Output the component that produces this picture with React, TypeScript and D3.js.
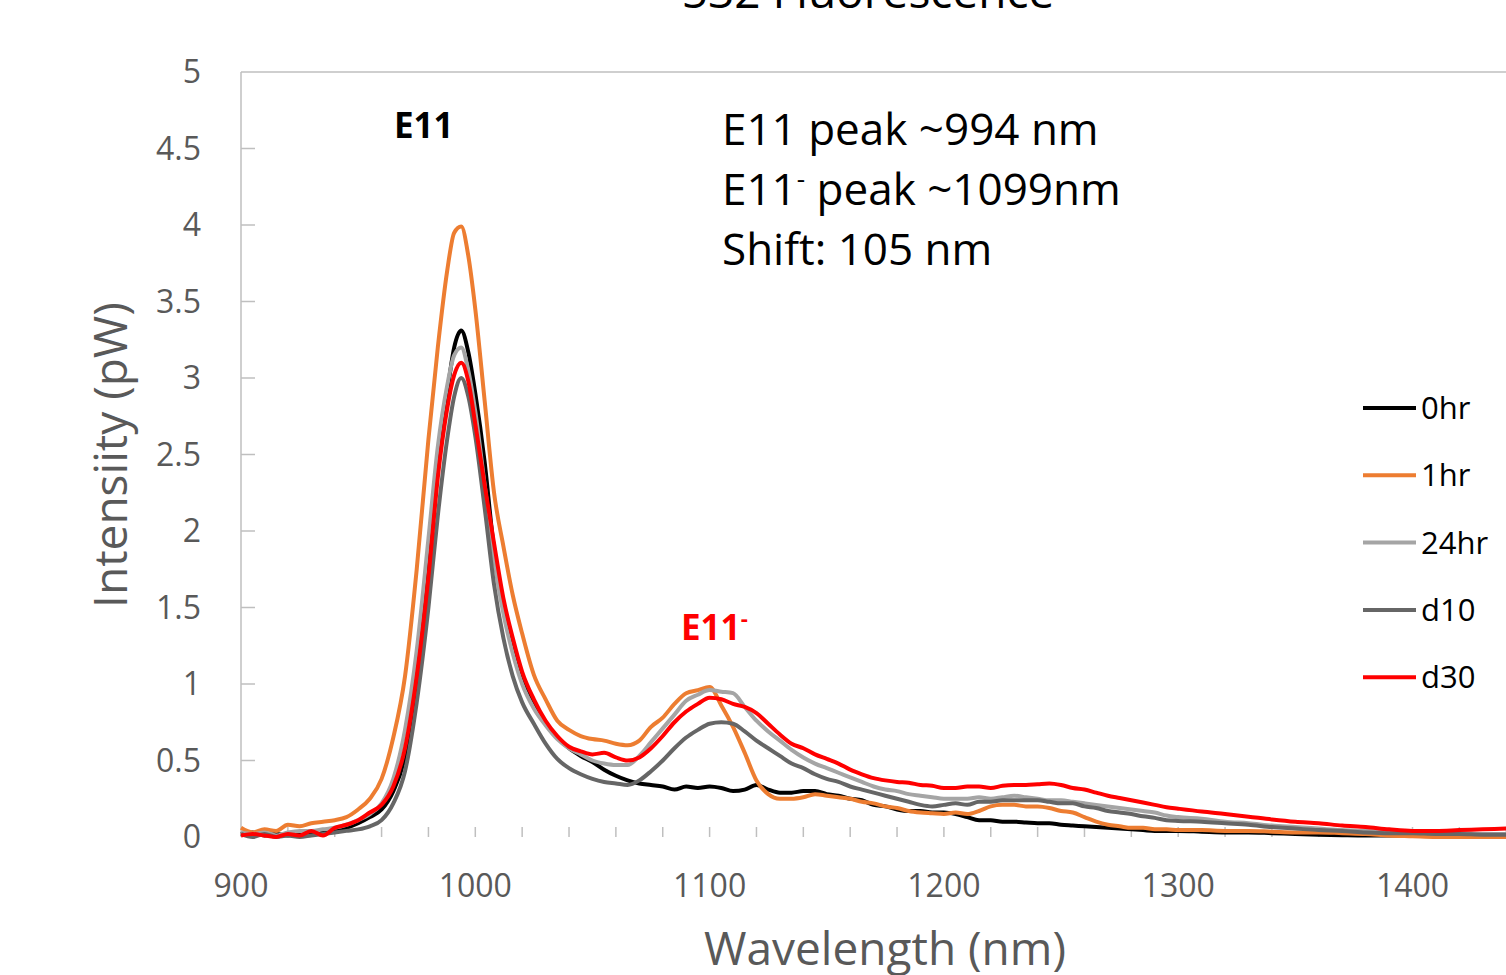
import React, { useEffect, useRef } from 'react';
import * as d3 from 'd3';

// wavelength grid (nm) shared by all series
const wavelengths = [
  900, 905, 910, 915, 920, 925, 930, 935, 940, 945, 950, 955, 960, 965, 970, 975, 980,
  984, 988, 991, 994, 997, 1000, 1004, 1008, 1012, 1016,
  1020, 1025, 1030, 1035, 1040, 1045, 1050, 1055, 1060, 1065,
  1070, 1075, 1080, 1085, 1090, 1095, 1100, 1105, 1110, 1115,
  1120, 1125, 1130, 1135, 1140, 1145, 1150, 1155, 1160, 1165,
  1170, 1175, 1180, 1185, 1190, 1195, 1200, 1205, 1210, 1215,
  1220, 1225, 1230, 1235, 1240, 1245, 1250, 1255, 1260, 1265,
  1270, 1275, 1280, 1285, 1290, 1295, 1300,
  1310, 1320, 1330, 1340, 1350, 1360, 1370, 1380, 1390, 1400, 1410, 1420, 1430, 1440,
];

const hr0 = [
  0.02, 0.03, 0.01, 0.02, 0.01, 0.02, 0.02, 0.03, 0.04, 0.06, 0.09, 0.13, 0.18, 0.3, 0.53, 1.05, 1.75,
  2.4, 2.9, 3.2, 3.31, 3.17, 2.9, 2.45, 1.88, 1.52, 1.25,
  1.06, 0.88, 0.74, 0.65, 0.58, 0.53, 0.49, 0.44, 0.4, 0.37,
  0.35, 0.34, 0.33, 0.31, 0.33, 0.32, 0.33, 0.32, 0.3, 0.31,
  0.34, 0.31, 0.29, 0.29, 0.3, 0.3, 0.28, 0.27, 0.25, 0.24,
  0.21, 0.2, 0.18, 0.17, 0.17, 0.16, 0.16, 0.15, 0.13, 0.11,
  0.11, 0.1, 0.1, 0.095, 0.09, 0.09, 0.08, 0.075, 0.07, 0.065,
  0.06, 0.055, 0.05, 0.045, 0.04, 0.04, 0.04,
  0.035, 0.03, 0.03, 0.025, 0.02, 0.015, 0.012, 0.01, 0.01, 0.01, 0.01, 0.01, 0.01, 0.01,
];

const hr1 = [
  0.06, 0.03, 0.05, 0.04, 0.08, 0.07, 0.09, 0.1, 0.11, 0.13, 0.18, 0.25, 0.38, 0.65, 1.05, 1.75, 2.6,
  3.2, 3.7, 3.95, 3.99, 3.8, 3.45, 2.85, 2.25, 1.9, 1.58,
  1.33, 1.06, 0.9, 0.76, 0.7, 0.66, 0.64, 0.63, 0.61, 0.6,
  0.63, 0.72, 0.78, 0.87, 0.94, 0.96, 0.98, 0.86, 0.72, 0.55,
  0.37, 0.28, 0.25, 0.25, 0.26, 0.28, 0.27, 0.26, 0.25, 0.23,
  0.22, 0.2, 0.19, 0.17, 0.16, 0.155, 0.15, 0.16, 0.15, 0.17,
  0.2, 0.21, 0.21, 0.2, 0.2, 0.19, 0.17, 0.16, 0.13, 0.1,
  0.08, 0.07, 0.06, 0.06, 0.05, 0.05, 0.045,
  0.045, 0.04, 0.04, 0.035, 0.03, 0.03, 0.025, 0.02, 0.01, 0.005, 0, 0, 0, 0,
];

const hr24 = [
  0.03, 0.02, 0.03, 0.01, 0.03, 0.04, 0.04, 0.05, 0.06, 0.08, 0.11, 0.15, 0.22, 0.38, 0.7, 1.22, 1.95,
  2.55, 2.95, 3.15, 3.2, 3.05, 2.78, 2.3, 1.82, 1.46, 1.2,
  1.0, 0.84, 0.73, 0.64, 0.58, 0.54, 0.5, 0.48, 0.47, 0.47,
  0.53, 0.62, 0.71, 0.8, 0.89, 0.93, 0.96, 0.95, 0.94, 0.85,
  0.76, 0.69, 0.63, 0.57, 0.52, 0.48, 0.45, 0.42, 0.39, 0.36,
  0.33, 0.31, 0.3, 0.28, 0.27, 0.26, 0.25, 0.25, 0.25, 0.26,
  0.25, 0.26, 0.27, 0.26, 0.25, 0.24, 0.24, 0.23, 0.22, 0.21,
  0.2, 0.19, 0.18, 0.17, 0.16, 0.14, 0.13,
  0.12, 0.1, 0.09, 0.075, 0.065, 0.055, 0.045, 0.04, 0.035, 0.03, 0.03, 0.025, 0.02, 0.02,
];

const d10 = [
  0.02, 0.0, 0.02, 0.0, 0.01, 0.0, 0.01, 0.02, 0.03, 0.04, 0.05, 0.07, 0.11, 0.22, 0.43, 0.88, 1.5,
  2.1, 2.6, 2.88, 3.0, 2.88, 2.62, 2.15, 1.65, 1.3, 1.05,
  0.88, 0.74, 0.61, 0.51, 0.45, 0.41, 0.38, 0.36, 0.35, 0.34,
  0.37, 0.43, 0.5, 0.58, 0.65, 0.7, 0.74, 0.75, 0.74, 0.69,
  0.63, 0.58, 0.53, 0.48, 0.45, 0.41, 0.38, 0.36, 0.33, 0.31,
  0.29, 0.27, 0.25, 0.23, 0.21, 0.2, 0.21, 0.22, 0.21, 0.23,
  0.23, 0.24, 0.24, 0.24, 0.24, 0.23, 0.22, 0.22, 0.2, 0.19,
  0.17, 0.16, 0.15, 0.135, 0.125, 0.11, 0.105,
  0.1, 0.09, 0.08, 0.065, 0.055, 0.045, 0.04, 0.03, 0.025, 0.025, 0.02, 0.02, 0.015, 0.015,
];

const d30 = [
  0.01, 0.02, 0.01, 0.0, 0.02, 0.01, 0.04, 0.01, 0.06, 0.08, 0.11, 0.16, 0.21, 0.33, 0.58, 1.05, 1.7,
  2.35, 2.8, 3.02, 3.1, 2.98, 2.7, 2.3, 1.92, 1.56, 1.3,
  1.08, 0.9, 0.76, 0.66, 0.59, 0.56, 0.54, 0.55, 0.52, 0.5,
  0.52, 0.58, 0.66, 0.75, 0.82, 0.87, 0.91, 0.9, 0.87, 0.85,
  0.81, 0.74, 0.67, 0.61, 0.58, 0.54, 0.51, 0.48, 0.44, 0.41,
  0.385, 0.37, 0.36, 0.355, 0.34, 0.335, 0.32, 0.32, 0.33, 0.33,
  0.32, 0.335, 0.34, 0.34, 0.345, 0.35, 0.34, 0.32, 0.31, 0.29,
  0.27, 0.255, 0.24, 0.225, 0.21, 0.195, 0.185,
  0.166, 0.15, 0.133, 0.115, 0.1, 0.09, 0.075, 0.065, 0.05, 0.04, 0.04, 0.045, 0.05, 0.055,
];

const seriesNames = ['0hr', '1hr', '24hr', 'd10', 'd30'];
const seriesValues = [hr0, hr1, hr24, d10, d30];
const seriesColors = ['#000000', '#ED7D31', '#A5A5A5', '#666666', '#FF0000'];

const xTickLabels = [900, 1000, 1100, 1200, 1300, 1400];
const yTickLabels = [0, 0.5, 1, 1.5, 2, 2.5, 3, 3.5, 4, 4.5, 5];

const FONT = '"Open Sans", "DejaVu Sans", sans-serif';

export default function App() {
  const ref = useRef<SVGSVGElement>(null);

  useEffect(() => {
    if (ref.current) drawChart(ref.current);
  }, []);

  return (
    <svg
      ref={ref}
      width={1506}
      height={975}
      style={{ position: 'absolute', left: 0, top: 0, background: '#fff' }}
    />
  );
}

const drawChart = (el: SVGSVGElement) => {
  const svg = d3.select(el);
  svg.selectAll('*').remove();

  const left = 241,
    top = 72,
    bottom = 837;

  const x = d3.scaleLinear().domain([900, 1440]).range([left, left + 540 * 2.343]);
  const y = d3.scaleLinear().domain([0, 5]).range([bottom, top]);

  svg.append('rect').attr('width', 1506).attr('height', 975).attr('fill', '#fff');

  // title, mostly cut off at the top (as in the original)
  svg
    .append('text')
    .attr('x', 868)
    .attr('y', 8)
    .attr('text-anchor', 'middle')
    .style('font-family', FONT)
    .style('font-size', '46px')
    .attr('fill', '#000')
    .text('532 Fluorescence');

  // frame / axes
  const axisColor = '#BFBFBF';
  svg.append('line').attr('x1', left).attr('x2', 1506).attr('y1', top).attr('y2', top)
    .attr('stroke', axisColor).attr('stroke-width', 1.5);
  svg.append('line').attr('x1', left).attr('x2', left).attr('y1', top).attr('y2', bottom)
    .attr('stroke', axisColor).attr('stroke-width', 1.5);

  // y ticks (inside) and labels
  svg
    .selectAll('ytick')
    .data(yTickLabels.filter(d => d > 0 && d < 5))
    .enter()
    .append('line')
    .attr('x1', left)
    .attr('x2', left + 14)
    .attr('y1', d => y(d))
    .attr('y2', d => y(d))
    .attr('stroke', axisColor)
    .attr('stroke-width', 1.5);

  svg
    .selectAll('ylabel')
    .data(yTickLabels)
    .enter()
    .append('text')
    .attr('x', 201)
    .attr('y', d => y(d) + 11)
    .attr('text-anchor', 'end')
    .style('font-family', FONT)
    .style('font-size', '32px')
    .attr('fill', '#595959')
    .text(d => String(d));

  // x minor ticks every 20 nm
  svg
    .selectAll('xtick')
    .data(d3.range(920, 1441, 20))
    .enter()
    .append('line')
    .attr('x1', d => x(d))
    .attr('x2', d => x(d))
    .attr('y1', bottom)
    .attr('y2', bottom - 10)
    .attr('stroke', axisColor)
    .attr('stroke-width', 1.5);

  svg
    .selectAll('xlabel')
    .data(xTickLabels)
    .enter()
    .append('text')
    .attr('x', d => x(d))
    .attr('y', 897)
    .attr('text-anchor', 'middle')
    .style('font-family', FONT)
    .style('font-size', '32px')
    .attr('fill', '#595959')
    .text(d => String(d));

  // axis titles
  svg
    .append('text')
    .attr('x', 885)
    .attr('y', 965)
    .attr('text-anchor', 'middle')
    .style('font-family', FONT)
    .style('font-size', '46px')
    .attr('fill', '#595959')
    .text('Wavelength (nm)');

  svg
    .append('text')
    .attr('transform', 'translate(127,455) rotate(-90)')
    .attr('text-anchor', 'middle')
    .style('font-family', FONT)
    .style('font-size', '46px')
    .attr('fill', '#595959')
    .text('Intensiity (pW)');

  // the spectra
  const line = d3
    .line<number>()
    .x((d, i) => x(wavelengths[i]))
    .y(d => y(d))
    .curve(d3.curveMonotoneX);

  svg
    .selectAll('spectra')
    .data(seriesValues)
    .enter()
    .append('path')
    .attr('d', d => line(d))
    .attr('fill', 'none')
    .attr('stroke', (d, i) => seriesColors[i])
    .attr('stroke-width', 4)
    .attr('stroke-linejoin', 'round');

  // legend
  const legend = svg
    .selectAll('legend')
    .data(seriesNames)
    .enter()
    .append('g')
    .attr('transform', (d, i) => `translate(1363,${408 + i * 67.3})`);
  legend
    .append('line')
    .attr('x1', 0)
    .attr('x2', 53)
    .attr('stroke', (d, i) => seriesColors[i])
    .attr('stroke-width', 4);
  legend
    .append('text')
    .attr('x', 58)
    .attr('y', 11)
    .style('font-family', FONT)
    .style('font-size', '31px')
    .attr('fill', '#000')
    .text(d => d);

  // peak labels
  svg
    .append('text')
    .attr('x', 394)
    .attr('y', 138)
    .style('font-family', FONT)
    .style('font-size', '35px')
    .style('font-weight', 'bold')
    .attr('fill', '#000')
    .text('E11');

  const minusLabel = svg
    .append('text')
    .attr('x', 681)
    .attr('y', 640)
    .style('font-family', FONT)
    .style('font-size', '35px')
    .style('font-weight', 'bold')
    .attr('fill', '#FF0000');
  minusLabel.append('tspan').text('E11');
  minusLabel.append('tspan').attr('dy', -14).style('font-size', '22px').text('-');

  // annotation block
  const note = svg
    .append('g')
    .style('font-family', FONT)
    .style('font-size', '44px')
    .attr('fill', '#000');
  note.append('text').attr('x', 722).attr('y', 145).text('E11 peak ~994 nm');
  const l2 = note.append('text').attr('x', 722).attr('y', 205);
  l2.append('tspan').text('E11');
  l2.append('tspan').attr('dy', -17).style('font-size', '26px').text('-');
  l2.append('tspan').attr('dy', 17).text(' peak ~1099nm');
  note.append('text').attr('x', 722).attr('y', 265).text('Shift: 105 nm');
};
